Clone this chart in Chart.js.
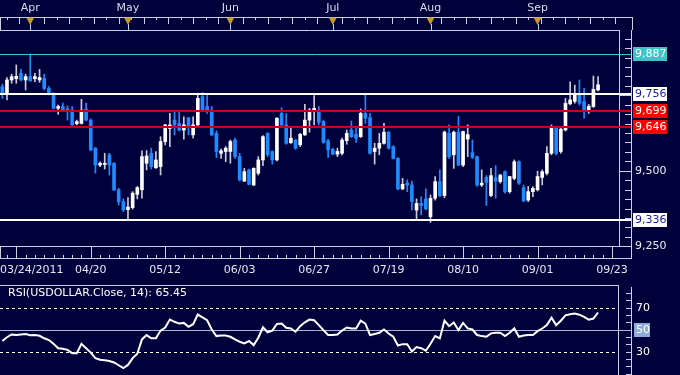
<!DOCTYPE html>
<html>
<head>
<meta charset="utf-8">
<script src="https://cdn.jsdelivr.net/npm/chart.js@4.4.0/dist/chart.umd.min.js"></script>
<style>
  html, body { margin: 0; padding: 0; background: #00003a; }
  #wrap { width: 680px; height: 375px; }
</style>
</head>
<body>
<div id="wrap"><canvas id="chart" width="680" height="375"></canvas></div>
<script>
// USDOLLAR daily candles, one per trading day from 24 Mar 2011
const opens  = [9779,9757,9801,9805,9823,9801,9812,9805,9801,9806,9773,9757,9707,9713,9705,9701,9656,9657,9704,9668,
                9575,9519,9521,9553,9525,9437,9398,9371,9378,9422,9437,9525,9558,9510,9514,9597,9640,9668,9657,9635,
                9676,9619,9652,9746,9713,9701,9624,9558,9564,9564,9602,9547,9466,9503,9453,9492,9536,9624,9564,9536,
                9690,9652,9593,9602,9586,9619,9668,9696,9696,9663,9599,9571,9555,9558,9600,9635,9621,9613,9690,9676,
                9564,9575,9591,9628,9580,9541,9440,9459,9453,9370,9392,9407,9348,9409,9464,9418,9624,9553,9628,9519,
                9605,9560,9547,9453,9478,9418,9477,9464,9497,9431,9475,9530,9444,9403,9431,9437,9478,9492,9558,9643,
                9564,9635,9722,9730,9751,9729,9696,9713,9768];
const highs  = [9787,9809,9820,9851,9837,9820,9887,9823,9836,9820,9779,9758,9718,9724,9715,9713,9668,9737,9724,9672,
                9577,9530,9558,9558,9527,9442,9407,9411,9431,9448,9566,9567,9575,9564,9613,9654,9690,9696,9696,9679,
                9676,9679,9757,9759,9753,9713,9632,9572,9580,9602,9608,9558,9508,9506,9510,9547,9617,9626,9566,9676,
                9709,9690,9646,9604,9624,9720,9707,9749,9713,9668,9604,9575,9575,9608,9635,9665,9646,9705,9753,9690,
                9591,9624,9657,9630,9583,9544,9475,9470,9466,9407,9414,9440,9420,9481,9503,9632,9652,9632,9680,9632,
                9652,9602,9549,9503,9484,9508,9517,9488,9500,9481,9536,9533,9453,9448,9448,9499,9503,9580,9652,9643,
                9641,9740,9795,9784,9801,9773,9720,9814,9812];
const lows   = [9740,9735,9790,9790,9798,9768,9797,9795,9793,9768,9751,9705,9687,9696,9668,9650,9652,9655,9665,9566,
                9492,9514,9506,9486,9434,9387,9365,9336,9373,9407,9409,9503,9506,9508,9486,9586,9580,9619,9632,9605,
                9619,9608,9650,9698,9690,9617,9544,9541,9530,9525,9541,9466,9464,9453,9451,9486,9517,9547,9522,9533,
                9647,9588,9591,9571,9580,9617,9628,9652,9652,9591,9544,9553,9547,9553,9588,9610,9594,9610,9657,9555,
                9522,9553,9588,9572,9539,9437,9437,9431,9370,9337,9354,9370,9329,9403,9414,9411,9541,9508,9517,9514,
                9547,9541,9448,9448,9385,9414,9409,9459,9426,9426,9470,9455,9398,9398,9414,9433,9453,9486,9553,9553,
                9558,9632,9718,9724,9718,9674,9690,9710,9765];
const closes = [9757,9801,9812,9813,9801,9812,9798,9812,9809,9773,9757,9707,9713,9701,9701,9652,9663,9701,9668,9569,
                9519,9525,9525,9519,9437,9398,9370,9380,9426,9444,9547,9549,9514,9536,9597,9652,9652,9652,9635,9652,
                9646,9652,9740,9701,9696,9619,9564,9566,9575,9597,9547,9470,9497,9455,9508,9536,9613,9553,9536,9674,
                9652,9591,9608,9575,9621,9668,9701,9707,9661,9594,9569,9555,9564,9602,9624,9613,9608,9690,9674,9558,
                9575,9591,9628,9575,9541,9440,9455,9453,9398,9392,9385,9374,9409,9464,9418,9628,9547,9628,9519,9630,
                9620,9545,9453,9459,9462,9484,9466,9486,9431,9481,9530,9459,9400,9431,9442,9481,9497,9558,9646,9558,
                9638,9724,9735,9751,9724,9696,9714,9770,9785];
// RSI(14) of the close
const rsi    = [39.5,43,45.5,45,45.5,45.8,44.8,45,44.3,42,40.4,37,33,32.5,31.5,28.5,28.5,37,33,29,
                24,22.5,22,21.4,20,17.5,15,17.8,24,28,41,44.9,42,42,49,51.8,59,57,55.4,56,
                52.4,54.8,63.6,61,58.4,50,44,44.5,44.6,43.4,41,38.9,37.3,39.5,35.8,42.5,52,47.5,49,55,
                55.4,51.5,50.9,48,53,56.5,59,58.4,54,49.4,45,44.9,45.5,49,51.8,51,51,58,55.4,45,
                46,47,50,46.4,43.4,35.5,36.7,36.7,30,34,33,30.7,37,44,41.9,58,53,56.3,49.4,56,
                51,50,45,44,43.4,46.5,47,47,44,47,51,43.4,44.5,45,45,48.5,50.9,54,60.8,54,
                58,62.9,63.9,64.5,63.5,61.5,59,60,65.45];

const levels = [9887, 9756, 9699, 9646, 9336];
const priceTicks = [9500, 9250];
const rsiLevels = [70, 50, 30];
const dateTickSlots = [3, 19, 35, 51, 67, 83, 99, 115, 131];
const dateTickLabels = ['03/24/2011', '04/20', '05/12', '06/03', '06/27', '07/19', '08/10', '09/01', '09/23'];
const monthSlots = [6, 27, 49, 71, 92, 115];
const monthLabels = ['Apr', 'May', 'Jun', 'Jul', 'Aug', 'Sep'];

// trading days (weekdays), with a few empty slots after the last bar
const days = [];
for (let d = new Date(2011, 2, 24); days.length < 133; d.setDate(d.getDate() + 1)) {
  if (d.getDay() !== 0 && d.getDay() !== 6) days.push((d.getMonth() + 1) + '/' + d.getDate());
}

const BG = '#00003a';
const FRAME = '#c8d0e4';
const BLUE = '#1e8cff';
const FONT = '11px "DejaVu Sans"';
const levelStyle = [
  { line: '#3cc4c8', width: 1, box: '#3cc4c8', text: '#ffffff' },
  { line: '#ffffff', width: 2, box: '#ffffff', text: '#1a1a9a' },
  { line: '#c80018', width: 2, box: '#ff0000', text: '#ffffff' },
  { line: '#c80018', width: 2, box: '#ff0000', text: '#ffffff' },
  { line: '#ffffff', width: 2, box: '#ffffff', text: '#1a1a9a' }
];

const up = closes.map((c, i) => c >= opens[i]);
const fmt = v => String(v).replace(/\B(?=(\d{3})+(?!\d))/g, ',');

function hline(c, x1, x2, y, color, w, dash) {
  const yy = Math.round(y) + (w % 2 ? 0.5 : 0);
  c.beginPath();
  c.strokeStyle = color; c.lineWidth = w; c.setLineDash(dash || []);
  c.moveTo(x1, yy); c.lineTo(x2, yy); c.stroke();
  c.setLineDash([]);
}
function vline(c, x, y1, y2, color, w) {
  const xx = Math.round(x) + ((w || 1) % 2 ? 0.5 : 0);
  c.beginPath();
  c.strokeStyle = color; c.lineWidth = w || 1;
  c.moveTo(xx, y1); c.lineTo(xx, y2); c.stroke();
}

const decor = {
  id: 'decor',
  beforeDraw(chart) {
    const c = chart.ctx, x = chart.scales.x, y = chart.scales.y, r = chart.scales.yr;
    c.save();
    c.fillStyle = BG;
    c.fillRect(0, 0, chart.width, chart.height);

    // top month band
    hline(c, 0, 633, 17, FRAME, 1);
    hline(c, 0, 619, 30, FRAME, 1);
    vline(c, 0, 17, 30, FRAME);
    vline(c, 632, 17, 30, FRAME);
    let k = 0;
    for (let s = 1; s < 132; s += 8 / 3, k++) {
      vline(c, x.getPixelForValue(s), 17, k % 2 ? 24 : 20, FRAME);
    }
    c.font = FONT; c.textAlign = 'center'; c.textBaseline = 'middle';
    monthSlots.forEach((s, i) => {
      const px = x.getPixelForValue(s);
      vline(c, px, 24, 31, FRAME);
      c.beginPath();
      c.fillStyle = '#c89a28';
      c.moveTo(px - 4, 17.5); c.lineTo(px + 4, 17.5); c.lineTo(px, 25); c.closePath(); c.fill();
      c.fillStyle = '#d8dcea';
      c.fillText(monthLabels[i], px, 8);
    });

    // main panel frame + price axis
    vline(c, 619, 30, 246, FRAME);
    vline(c, 631, 30, 258, FRAME);
    for (let v = 9250; v <= 9966; v += 31.25) {
      const py = y.getPixelForValue(v);
      hline(c, v % 250 === 0 ? 619 : 625, 631, py, FRAME, 1);
    }

    // date band
    hline(c, 0, 632, 246, FRAME, 1);
    hline(c, 0, 632, 258, FRAME, 1);
    vline(c, 0, 246, 258, FRAME);
    for (let s = 1; s < 133; s += 2) vline(c, x.getPixelForValue(s), 255, 258, FRAME);
    c.fillStyle = '#e4e8f4';
    dateTickSlots.forEach((s, i) => {
      const px = x.getPixelForValue(s);
      vline(c, px, 246, 258, FRAME);
      const w = c.measureText(dateTickLabels[i]).width;
      c.fillText(dateTickLabels[i], Math.max(w / 2, px), 270);
    });

    // RSI panel
    hline(c, 0, 618, 285, FRAME, 1);
    vline(c, 618, 285, 375, FRAME);
    vline(c, 631, 287, 375, FRAME);
    for (let v = 10; v <= 90; v += 20 / 3) hline(c, 626, 631, r.getPixelForValue(v), FRAME, 1);
    hline(c, 0, 618, r.getPixelForValue(rsiLevels[0]), '#ffffff', 1, [3, 3]);
    hline(c, 0, 631, r.getPixelForValue(rsiLevels[1]), '#a8b8d8', 1);
    hline(c, 0, 618, r.getPixelForValue(rsiLevels[2]), '#ffffff', 1, [3, 3]);
    c.restore();
  },
  afterDatasetsDraw(chart) {
    const c = chart.ctx, y = chart.scales.y, r = chart.scales.yr;
    c.save();
    c.font = FONT; c.textBaseline = 'middle'; c.textAlign = 'left';
    levels.forEach((v, i) => {
      const st = levelStyle[i], py = y.getPixelForValue(v);
      hline(c, 0, 631, py, st.line, st.width);
    });
    priceTicks.forEach(v => {
      c.fillStyle = '#e8ecf6';
      c.fillText(fmt(v), 635, y.getPixelForValue(v));
    });
    levels.forEach((v, i) => {
      const st = levelStyle[i], py = Math.round(y.getPixelForValue(v));
      c.fillStyle = st.box;
      c.fillRect(633, py - 7, 34, 14);
      c.fillStyle = st.text;
      c.fillText(fmt(v), 635, py);
    });
    rsiLevels.forEach(v => {
      const py = Math.round(r.getPixelForValue(v));
      if (v === 50) { c.fillStyle = '#8eaad8'; c.fillRect(634, py - 7, 16, 14); }
      c.fillStyle = '#ffffff';
      c.fillText(String(v), 636, py);
    });
    c.fillStyle = '#ffffff';
    c.fillText('RSI(USDOLLAR.Close, 14): ' + rsi[rsi.length - 1].toFixed(2), 8, 293);
    c.restore();
  }
};

const ctx = document.getElementById('chart').getContext('2d');
const chart = new Chart(ctx, {
  data: {
    labels: days,
    datasets: [
      {
        type: 'bar', order: 3, yAxisID: 'y', grouped: false,
        data: lows.map((l, i) => [l, highs[i]]),
        backgroundColor: up.map(u => u ? '#c8ccd8' : BLUE),
        barThickness: 1
      },
      {
        type: 'bar', order: 2, yAxisID: 'y', grouped: false,
        data: opens.map((o, i) => [o, closes[i]]),
        backgroundColor: up.map(u => u ? '#ffffff' : BLUE),
        barThickness: 3, minBarLength: 1
      },
      {
        type: 'line', order: 1, yAxisID: 'yr',
        data: rsi,
        borderColor: '#ffffff', borderWidth: 2, pointRadius: 0, tension: 0
      }
    ]
  },
  options: {
    responsive: false,
    animation: false,
    layout: { padding: { top: 30, right: 61, bottom: 0, left: 0 } },
    plugins: { legend: { display: false }, tooltip: { enabled: false } },
    scales: {
      x: { display: false, offset: true },
      y: { display: false, min: 8823.4, max: 9966.5 },
      yr: { type: 'linear', display: false, min: 8.64, max: 322.27 }
    }
  },
  plugins: [decor]
});
</script>
</body>
</html>
